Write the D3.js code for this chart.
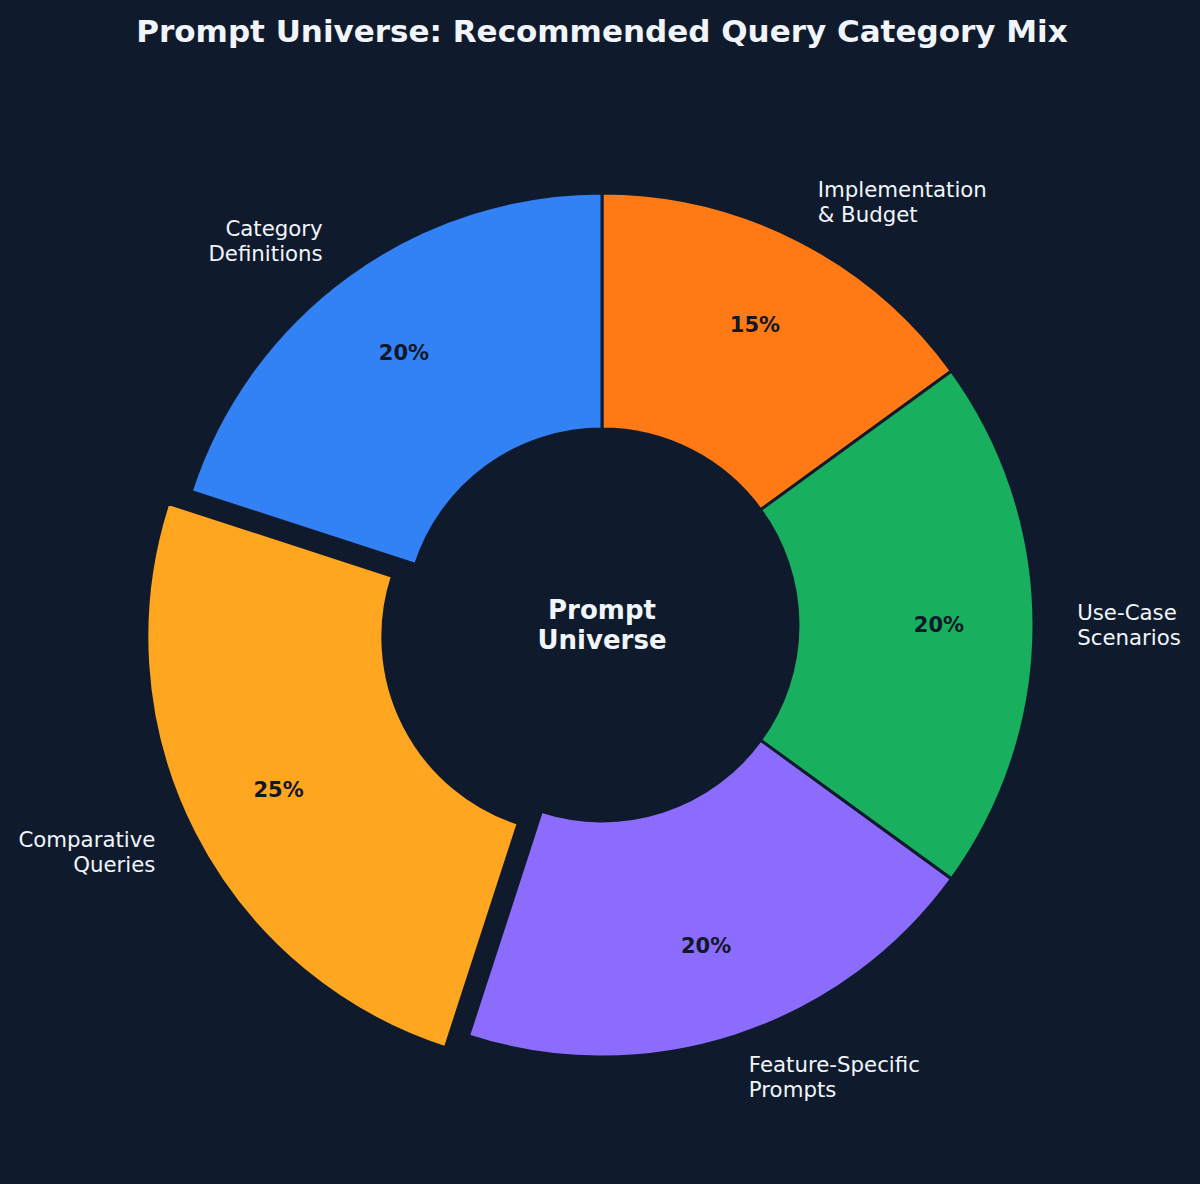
<!DOCTYPE html>
<html>
<head>
<meta charset="utf-8">
<script src="https://cdn.jsdelivr.net/npm/d3@7"></script>
<style>
  html, body { margin: 0; padding: 0; background: #0f1b2d; }
  svg { display: block; }
</style>
</head>
<body>
<script>

// data, clockwise from 12 o'clock
var categories  = ["Implementation\n& Budget", "Use-Case\nScenarios", "Feature-Specific\nPrompts",
                   "Comparative\nQueries", "Category\nDefinitions"];
var shares      = [15, 20, 20, 25, 20];
var sliceColors = ["#ff7a14", "#18b05e", "#8b6cfc", "#ffa620", "#3282f6"];
var exploded    = [0, 0, 0, 1, 0];
var chartTitle  = "Prompt Universe: Recommended Query Category Mix";
var centerLines = ["Prompt", "Universe"];

var W = 1200, H = 1184;
var cx = 602, cy = 625;
var rOuter = 432, rInner = 196;
var explodeDist = 26;
var bg = "#0f1b2d";
var textCol = "#f1f5f9";

var svg = d3.select("body").append("svg")
    .attr("width", W)
    .attr("height", H);

svg.append("rect").attr("width", W).attr("height", H).attr("fill", bg);

svg.append("text")
    .attr("x", W / 2 + 2)
    .attr("y", 42)
    .attr("text-anchor", "middle")
    .attr("font-family", "DejaVu Sans")
    .attr("font-weight", "bold")
    .attr("font-size", 31)
    .attr("fill", textCol)
    .text(chartTitle);

var pie = d3.pie().value(function(d) { return d; }).sort(null);
var arcs = pie(shares);

var arc = d3.arc().innerRadius(rInner).outerRadius(rOuter);

var g = svg.append("g").attr("transform", "translate(" + cx + "," + cy + ")");

function midAngle(a) { return (a.startAngle + a.endAngle) / 2; }
function dir(a) { var m = midAngle(a); return [Math.sin(m), -Math.cos(m)]; }

var slices = g.selectAll("g.slice").data(arcs).enter().append("g")
    .attr("class", "slice")
    .attr("transform", function(d, i) {
        var v = dir(d), off = exploded[i] * explodeDist;
        return "translate(" + v[0] * off + "," + v[1] * off + ")";
    });

slices.append("path")
    .attr("d", arc)
    .attr("fill", function(d, i) { return sliceColors[i]; })
    .attr("stroke", bg)
    .attr("stroke-width", 3)
    .attr("stroke-linejoin", "miter");

// percentages
var pctR = rOuter * 0.78;
slices.append("text")
    .attr("x", function(d) { return dir(d)[0] * pctR; })
    .attr("y", function(d) { return dir(d)[1] * pctR; })
    .attr("dy", "0.35em")
    .attr("text-anchor", "middle")
    .attr("font-family", "DejaVu Sans")
    .attr("font-weight", "bold")
    .attr("font-size", 21)
    .attr("fill", "#111827")
    .text(function(d) { return d.data + "%"; });

// outer category labels
var labR = rOuter * 1.1;
var lineH = 25;
slices.each(function(d, i) {
    var v = dir(d);
    var lines = categories[i].split("\n");
    var t = d3.select(this).append("text")
        .attr("text-anchor", v[0] < 0 ? "end" : "start")
        .attr("font-family", "DejaVu Sans")
        .attr("font-size", 21.3)
        .attr("fill", textCol);
    lines.forEach(function(s, k) {
        t.append("tspan")
            .attr("x", v[0] * labR)
            .attr("y", v[1] * labR + (k - (lines.length - 1) / 2) * lineH)
            .attr("dy", "0.35em")
            .text(s);
    });
});

// centre text
var ct = g.append("text")
    .attr("text-anchor", "middle")
    .attr("font-family", "DejaVu Sans")
    .attr("font-weight", "bold")
    .attr("font-size", 26)
    .attr("fill", textCol);
centerLines.forEach(function(s, k) {
    ct.append("tspan")
        .attr("x", 0)
        .attr("y", (k - 0.5) * 30)
        .attr("dy", "0.35em")
        .text(s);
});

</script>
</body>
</html>
